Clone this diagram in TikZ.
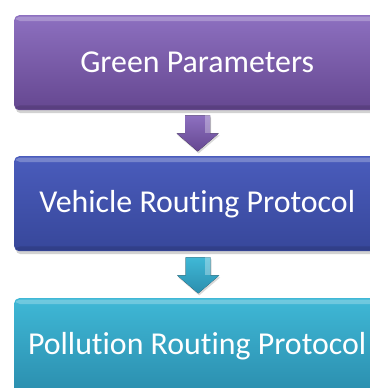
\documentclass[tikz,border=0pt]{standalone}
\usepackage{fontspec}
\setmainfont{Carlito}[Ligatures={NoCommon,NoContextual}]
\usetikzlibrary{shadows,calc}
\definecolor{pA}{HTML}{8D70C0}
\definecolor{pB}{HTML}{654790}
\definecolor{bA}{HTML}{4A5CBC}
\definecolor{bB}{HTML}{37479A}
\definecolor{tA}{HTML}{3FB8D6}
\definecolor{tB}{HTML}{2B8EAE}
\tikzset{
  stepbox/.style={rounded corners=5bp, minimum width=366bp, minimum height=95bp,
    anchor=north west, inner sep=0pt, text=white, font=\fontsize{32}{36}\selectfont,
    drop shadow={opacity=0.35, shadow xshift=1.5bp, shadow yshift=-3bp}},
  blockarrow/.style={drop shadow={opacity=0.3, shadow xshift=1bp, shadow yshift=-2bp}}
}
\newcommand{\blockarrowpath}[1]{%
  ($(#1)+(-12.5,0)$) -- ($(#1)+(12.5,0)$) -- ($(#1)+(12.5,18)$) -- ($(#1)+(21,18)$)
  -- ($(#1)+(0,36)$) -- ($(#1)+(-21,18)$) -- ($(#1)+(-12.5,18)$) -- cycle}
\begin{document}
\begin{tikzpicture}[x=1bp,y=-1bp]
\useasboundingbox (0,0) rectangle (370,388);
\clip (0,0) rectangle (370,388);
\fill[white] (0,0) rectangle (370,388);
\node[stepbox, top color=pA, bottom color=pB] (g) at (14,15) {Green Parameters};
\node[stepbox, top color=bA, bottom color=bB] (v) at (14,156) {Vehicle Routing Protocol};
\node[stepbox, top color=tA, bottom color=tB] (p) at (14,298) {\raisebox{-1bp}{Pollution Routing Protocol}};
% bevel highlights
\foreach \n in {g,v,p}{
  \fill[white, opacity=0.25, rounded corners=4bp] ($(\n.north west)+(2,1.5)$) rectangle ($(\n.north east)+(-2,6)$);
  \fill[black, opacity=0.12, rounded corners=4bp] ($(\n.south west)+(2,-5)$) rectangle ($(\n.south east)+(-2,-1)$);
}
\coordinate (a1) at ($(g.south)+(0.5,5)$);
\coordinate (a2) at ($(v.south)+(1,6)$);
\fill[blockarrow, top color=pA, bottom color=pB] \blockarrowpath{a1};
\fill[blockarrow, top color=tA, bottom color=tB] \blockarrowpath{a2};
\fill[white, opacity=0.3] ($(a1)+(7,0)$) rectangle ($(a1)+(12.5,18)$);
\fill[white, opacity=0.3] ($(a2)+(7,0)$) rectangle ($(a2)+(12.5,18)$);
\end{tikzpicture}
\end{document}
